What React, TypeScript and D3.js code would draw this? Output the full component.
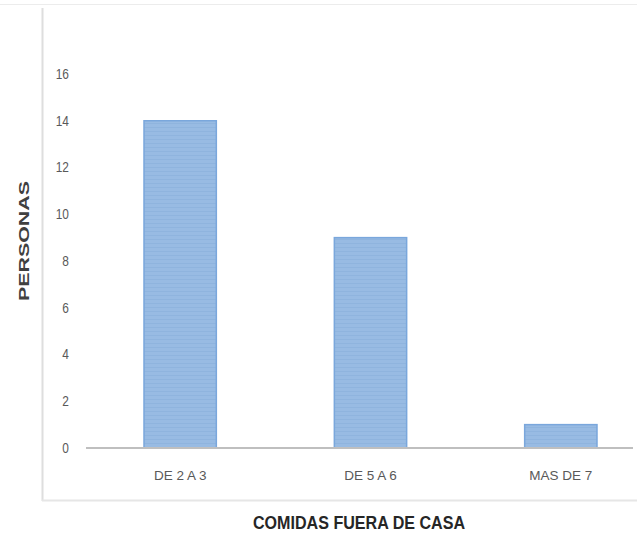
import React from "react";
import * as d3 from "d3";

const categories = ["DE 2 A 3", "DE 5 A 6", "MAS DE 7"];
const values = [14, 9, 1];
const yTicks = [0, 2, 4, 6, 8, 10, 12, 14, 16];
const xTitle = "COMIDAS FUERA DE CASA";
const yTitle = "PERSONAS";

const W = 637;
const H = 540;
const FONT = "'Liberation Sans Narrow', 'Arial Narrow', 'Liberation Sans', Arial, sans-serif";

export default function App() {
  const y = d3.scaleLinear().domain([0, 16]).range([448, 74]);
  const x = d3.scaleBand().domain(categories).range([85, 656]).paddingInner(0.62).paddingOuter(0.31);
  const bw = x.bandwidth();

  return (
    <svg width={W} height={H} style={{ position: "absolute", left: 0, top: 0, background: "#fff" }}>
      <defs>
        <pattern id="stripes" width="8" height="4" patternUnits="userSpaceOnUse">
          <rect width="8" height="4" fill="#98bbe3" />
          <rect y="3" width="8" height="1" fill="#8fb4de" />
        </pattern>
      </defs>
      {/* frame */}
      <line x1={0} x2={W} y1={4.5} y2={4.5} stroke="#ececec" strokeWidth={1} />
      <line x1={42.5} x2={42.5} y1={8} y2={501} stroke="#dedede" strokeWidth={2} />
      <line x1={42} x2={W} y1={500.5} y2={500.5} stroke="#e6e6e6" strokeWidth={2} />
      {/* y ticks */}
      {yTicks.map((t) => (
        <text key={t} x={69} y={y(t)} dy="0.35em" textAnchor="end" fontFamily={FONT} fontSize={14} fill="#595959"
          transform={`translate(${69 * 0.15},0) scale(0.85,1)`}>
          {t}
        </text>
      ))}
      {/* bars */}
      {categories.map((c, i) => (
        <rect
          key={c}
          x={x(c)!}
          y={y(values[i])}
          width={bw}
          height={y(0) - y(values[i])}
          fill="url(#stripes)"
          stroke="#7aa7dc"
          strokeWidth={1.5}
        />
      ))}
      {/* baseline */}
      <line x1={86} x2={633} y1={448} y2={448} stroke="#bfbfbf" strokeWidth={2} />
      {/* x labels */}
      {categories.map((c) => (
        <text key={c} x={x(c)! + bw / 2} y={475} dy="0.35em" textAnchor="middle" fontFamily={FONT} fontSize={13.5} fill="#595959">
          {c}
        </text>
      ))}
      <text x={359} y={523} dy="0.35em" textAnchor="middle" fontFamily={FONT} fontSize={18} fontWeight="bold" fill="#262626"
        textLength={212} lengthAdjust="spacingAndGlyphs">
        {xTitle}
      </text>
      <text
        transform={`translate(24,241) rotate(-90)`}
        dy="0.35em"
        textAnchor="middle"
        fontFamily={FONT}
        fontSize={15}
        fontWeight="bold"
        fill="#404040"
        textLength={120}
        lengthAdjust="spacingAndGlyphs"
      >
        {yTitle}
      </text>
    </svg>
  );
}
